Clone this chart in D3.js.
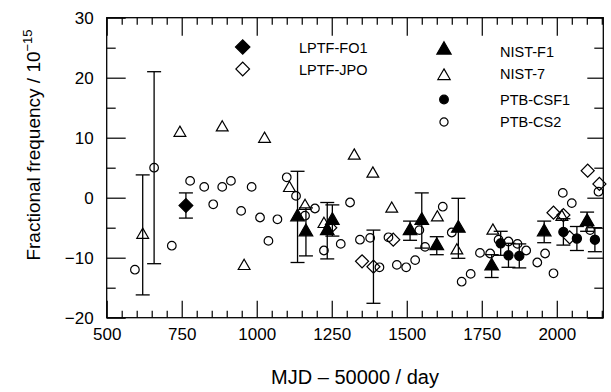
<!DOCTYPE html>
<html>
<head>
<meta charset="utf-8">
<title>Fractional frequency</title>
<style>
  body { margin: 0; background: #fff; }
  svg { display: block; font-family: "Liberation Sans", Arial, sans-serif; }
</style>
</head>
<body>
<svg width="611" height="392"></svg>
<script src="https://cdn.jsdelivr.net/npm/d3@7/dist/d3.min.js"></script>
<script>
// [MJD - 50000, fractional frequency / 1e-15, uncertainty]
const lptfFo1 = [[764, -1.3, 2.1]]
const lptfJpo = [[1245, -5.0], [1351, -10.6], [1389, -11.5, 6.1], [1455, -7.0], [1989, -2.5],
  [2022, -2.9], [2043, -6.6], [2103, 4.5], [2142, 2.3]]
const nistF1 = [[1136, -3.2, 7.6], [1164, -5.7, 4], [1235, -5.5, 4.7], [1252, -3.8, 2.6],
  [1511, -5.5, 1.6], [1550, -3.8, 4.6], [1600, -8.0, 1.5], [1672, -5.1, 5],
  [1783, -11.4, 1.9], [1958, -5.7, 1.8], [2101, -4.0, 1.6]]
const nist7 = [[620, -6.2, 10], [744, 10.8], [885, 11.7], [958, -11.4], [1026, 9.8], [1109, 1.6],
  [1161, -1.4], [1224, -4.4], [1325, 7.0], [1387, 4.0], [1450, -1.85], [1602, -3.3],
  [1667, -8.8], [1787, -5.5], [2017, -3.2]]
const ptbCsf1 = [[1813, -7.6, 2], [1839, -9.6, 2], [1875, -9.7, 2], [2022, -5.7, 2.2],
  [2067, -6.8, 2], [2127, -7.0, 2]]
const ptbCs2 = [[594, -12], [658, 5, 16], [717, -8], [778, 2.8], [825, 1.8], [855, -1.1],
  [885, 1.8], [914, 2.8], [948, -2.2], [983, 1.8], [1011, -3.3], [1039, -7.2], [1069, -3.6],
  [1100, 3.4], [1131, 0.3], [1161, -3.0], [1194, -1.8], [1224, -8.8], [1280, -7.7],
  [1311, -0.8], [1344, -7.0], [1378, -6.7], [1409, -11.6], [1439, -6.6], [1467, -11.2],
  [1498, -11.6], [1528, -10.4], [1542, -5.4], [1561, -8.2], [1620, -1.5], [1650, -5.8],
  [1683, -14], [1713, -12.7], [1744, -9.2], [1778, -9.3], [1806, -7.0], [1839, -7.3],
  [1869, -7.7], [1898, -8.8], [1935, -10.8], [1961, -9.3], [1989, -12.6], [2020, 0.8],
  [2050, -0.9], [2111, -5.4], [2139, 1.0]]

const xTicks = [500, 750, 1000, 1250, 1500, 1750, 2000]
const yTicks = [-20, -10, 0, 10, 20, 30]
const legendNames = ["LPTF-FO1", "LPTF-JPO", "NIST-F1", "NIST-7", "PTB-CSF1", "PTB-CS2"]

const svg = d3.select("svg")
const pLeft = 106.7, pRight = 603.3, pTop = 17.7, pBottom = 317.7

const x = d3.scaleLinear().domain([500, 2155]).range([pLeft, pRight])
const y = d3.scaleLinear().domain([-20, 30]).range([pBottom, pTop])

// marker styles per series
const styles = {
  "LPTF-FO1": { type: "diamond", fill: true, size: 95 },
  "LPTF-JPO": { type: "diamond", fill: false, size: 85 },
  "NIST-F1": { type: "triangle", fill: true, size: 80 },
  "NIST-7": { type: "triangle", fill: false, size: 60 },
  "PTB-CSF1": { type: "circle", fill: true, size: 66 },
  "PTB-CS2": { type: "circle", fill: false, size: 58 }
}
const series = [
  ["PTB-CS2", ptbCs2], ["NIST-7", nist7], ["LPTF-JPO", lptfJpo],
  ["LPTF-FO1", lptfFo1], ["PTB-CSF1", ptbCsf1], ["NIST-F1", nistF1]
]

function marker(sel, name, scale) {
  let s = styles[name]
  let sym = s.type == "circle" ? d3.symbolCircle : s.type == "triangle" ? d3.symbolTriangle : d3.symbolSquare
  sel.attr("d", d3.symbol().type(sym).size(s.size * (scale || 1))())
    .attr("fill", s.fill ? "#000" : "none")
    .attr("stroke", "#000").attr("stroke-width", 1.2)
  return sel
}

// axes: inward ticks on all sides
function drawAxis(axisFn, pos, scale, vals, size, labels, pad) {
  let g = svg.append("g").attr("transform", pos)
    .call(axisFn(scale).tickValues(vals).tickSize(-size).tickPadding(pad || 3)
      .tickFormat(labels ? d3.format("d") : ""))
  g.select(".domain").remove()
  g.selectAll("line").attr("stroke", "#000").attr("stroke-width", 1.2)
  g.selectAll("text").attr("fill", "#000").attr("font-size", 17)
    .attr("font-family", '"Liberation Sans", Arial, sans-serif')
  return g
}
const xMinor = d3.range(500, 2155, 50).filter(v => !xTicks.includes(v))
const yMinor = d3.range(-20, 31, 5).filter(v => !yTicks.includes(v))

drawAxis(d3.axisBottom, `translate(0,${pBottom})`, x, xMinor, 7)
drawAxis(d3.axisBottom, `translate(0,${pBottom})`, x, xTicks, 17, true, 10)
drawAxis(d3.axisTop, `translate(0,${pTop})`, x, xMinor, 7)
drawAxis(d3.axisTop, `translate(0,${pTop})`, x, xTicks, 18)
drawAxis(d3.axisLeft, `translate(${pLeft},0)`, y, yMinor, 9)
drawAxis(d3.axisLeft, `translate(${pLeft},0)`, y, yTicks, 19, true, 13)
drawAxis(d3.axisRight, `translate(${pRight},0)`, y, yMinor, 9)
drawAxis(d3.axisRight, `translate(${pRight},0)`, y, yTicks, 16)

svg.append("rect").attr("x", pLeft).attr("y", pTop)
  .attr("width", pRight - pLeft).attr("height", pBottom - pTop)
  .attr("fill", "none").attr("stroke", "#000").attr("stroke-width", 1.3)

// error bars
const bars = svg.append("g").attr("stroke", "#000").attr("stroke-width", 1.3)
series.forEach(([name, data]) => {
  data.filter(d => d[2]).forEach(d => {
    let cx = x(d[0]), y1 = y(d[1] - d[2]), y2 = y(d[1] + d[2])
    bars.append("line").attr("x1", cx).attr("x2", cx).attr("y1", y1).attr("y2", y2)
    bars.append("line").attr("x1", cx - 7).attr("x2", cx + 7).attr("y1", y1).attr("y2", y1)
    bars.append("line").attr("x1", cx - 7).attr("x2", cx + 7).attr("y1", y2).attr("y2", y2)
  })
})

// points
series.forEach(([name, data]) => {
  let rot = styles[name].type == "diamond" ? " rotate(45)" : ""
  svg.append("g").selectAll("path").data(data).enter().append("path")
    .attr("transform", d => `translate(${x(d[0])},${y(d[1])})${rot}`)
    .call(sel => marker(sel, name))
})

// legend
const legPos = [[242.7, 47, 299, 48], [242.7, 69, 299, 70], [444, 50, 500, 51.5],
  [444, 76, 500, 74], [444, 99.5, 500, 100], [444, 122, 500, 121.5]]
const leg = svg.append("g")
legendNames.forEach((name, i) => {
  let p = legPos[i]
  let rot = styles[name].type == "diamond" ? " rotate(45)" : ""
  let sc = styles[name].type == "circle" ? 0.9 : 1.1
  leg.append("path").attr("transform", `translate(${p[0]},${p[1]})${rot}`)
    .call(sel => marker(sel, name, sc))
  leg.append("text").attr("x", p[2]).attr("y", p[3]).attr("dy", "0.35em")
    .attr("font-size", 14.5).attr("fill", "#000").text(name)
})

// axis titles
svg.append("text").attr("x", 355).attr("y", 384).attr("text-anchor", "middle")
  .attr("font-size", 20).attr("fill", "#000").text("MJD \u2013 50000 / day")

const yt = svg.append("text").attr("transform", "translate(40,145) rotate(-90)")
  .attr("text-anchor", "middle").attr("font-size", 19).attr("fill", "#000")
yt.append("tspan").text("Fractional frequency / 10")
yt.append("tspan").attr("dy", -8).attr("font-size", 13).text("\u221215")
</script>
</body>
</html>
